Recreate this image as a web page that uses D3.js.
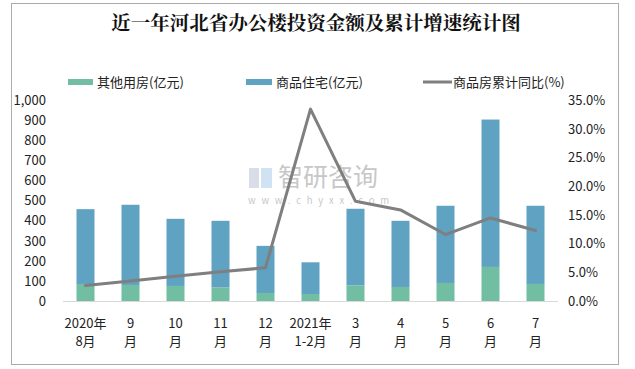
<!DOCTYPE html>
<html><head><meta charset="utf-8">
<script src="https://cdn.jsdelivr.net/npm/d3@7/dist/d3.min.js"></script>
<style>
html,body{margin:0;padding:0;background:#fff;}
text{font-family:"Noto Sans CJK SC","Microsoft YaHei",sans-serif;}
</style></head>
<body>
<svg id="c" width="635" height="369"></svg>
<script>
const title = "近一年河北省办公楼投资金额及累计增速统计图";
const categories = [["2020年","8月"],["9","月"],["10","月"],["11","月"],["12","月"],["2021年","1-2月"],["3","月"],["4","月"],["5","月"],["6","月"],["7","月"]];
const otherValues = [85, 80, 75, 68, 40, 35, 78, 70, 90, 170, 85];
const residentialValues = [373, 400, 335, 332, 235, 158, 382, 330, 385, 735, 390];
const growthValues = [2.7, 3.5, 4.3, 5.1, 5.8, 33.5, 17.4, 15.9, 11.6, 14.5, 12.3];
const leftTicks = [0,100,200,300,400,500,600,700,800,900,1000];
const rightTicks = [0,5,10,15,20,25,30,35];
const seriesNames = ["其他用房(亿元)","商品住宅(亿元)","商品房累计同比(%)"];
const colors = {other:"#72BEA3", res:"#5FA2C2", line:"#7F7F7F"};

const svg = d3.select("#c");
svg.append("rect").attr("x",11.5).attr("y",3.5).attr("width",607).attr("height",361)
  .attr("fill","#fff").attr("stroke","#ababab").attr("stroke-width",1);

svg.append("text").attr("x",316).attr("y",30).attr("text-anchor","middle")
  .attr("font-size",19.5).attr("font-weight","bold").attr("fill","#111")
  .style("font-family","'Noto Serif CJK SC','Noto Sans CJK SC',serif").text(title);

const x = d3.scaleBand().domain(d3.range(categories.length)).range([63,558]).paddingInner(0.6).paddingOuter(0.3);
const yL = d3.scaleLinear().domain([0,1000]).range([301,100.5]);
const yR = d3.scaleLinear().domain([0,35]).range([301,100.5]);

// watermark
const wm = svg.append("g").attr("opacity",0.55);
wm.append("rect").attr("x",249).attr("y",168).attr("width",10).attr("height",20).attr("fill","#b9c3d6");
wm.append("rect").attr("x",261).attr("y",168).attr("width",11).attr("height",20).attr("fill","#a9cde8");
wm.append("text").attr("x",278).attr("y",186).attr("font-size",25).attr("fill","#9a9a9a").text("智研咨询");
wm.append("text").attr("x",248).attr("y",204).attr("font-size",9.5).attr("fill","#9a9a9a")
  .attr("letter-spacing","5.8").text("www.chyxx.com");

// baseline
svg.append("line").attr("x1",63).attr("x2",558).attr("y1",301.5).attr("y2",301.5).attr("stroke","#d9d9d9");

// bars
const g = svg.append("g");
categories.forEach((c,i)=>{
  g.append("rect").attr("x",x(i)).attr("width",x.bandwidth())
    .attr("y",yL(otherValues[i])).attr("height",yL(0)-yL(otherValues[i])).attr("fill",colors.other);
  const top = otherValues[i]+residentialValues[i];
  g.append("rect").attr("x",x(i)).attr("width",x.bandwidth())
    .attr("y",yL(top)).attr("height",yL(otherValues[i])-yL(top)).attr("fill",colors.res);
});

// line
const line = d3.line().x((d,i)=>x(i)+x.bandwidth()/2).y(d=>yR(d));
svg.append("path").datum(growthValues).attr("d",line).attr("fill","none")
  .attr("stroke",colors.line).attr("stroke-width",3).attr("stroke-linejoin","round").attr("stroke-linecap","round");

// left axis
const axL = svg.append("g").attr("transform","translate(57,0)")
  .call(d3.axisLeft(yL).tickValues(leftTicks).tickSize(0).tickPadding(11).tickFormat(d3.format(",")));
axL.select(".domain").remove();
axL.selectAll("text").attr("font-size",13).attr("fill","#222");

// right axis
const axR = svg.append("g").attr("transform","translate(558,0)")
  .call(d3.axisRight(yR).tickValues(rightTicks).tickSize(0).tickPadding(10).tickFormat(d=>d.toFixed(1)+"%"));
axR.select(".domain").remove();
axR.selectAll("text").attr("font-size",13).attr("fill","#222");

// x labels
categories.forEach((c,i)=>{
  const cx = x(i)+x.bandwidth()/2;
  svg.append("text").attr("x",cx).attr("y",328).attr("text-anchor","middle").attr("font-size",13).attr("fill","#222").text(c[0]);
  svg.append("text").attr("x",cx).attr("y",346).attr("text-anchor","middle").attr("font-size",13).attr("fill","#222").text(c[1]);
});

// legend
const lg = svg.append("g");
lg.append("rect").attr("x",68).attr("y",79).attr("width",25).attr("height",6).attr("fill",colors.other);
lg.append("text").attr("x",97).attr("y",87).attr("font-size",13).attr("fill","#222").text(seriesNames[0]);
lg.append("rect").attr("x",246).attr("y",79).attr("width",26).attr("height",6).attr("fill",colors.res);
lg.append("text").attr("x",276).attr("y",87).attr("font-size",13).attr("fill","#222").text(seriesNames[1]);
lg.append("line").attr("x1",423).attr("x2",452).attr("y1",82).attr("y2",82).attr("stroke",colors.line).attr("stroke-width",3);
lg.append("text").attr("x",453).attr("y",87).attr("font-size",13).attr("fill","#222").text(seriesNames[2]);
</script>
</body></html>
